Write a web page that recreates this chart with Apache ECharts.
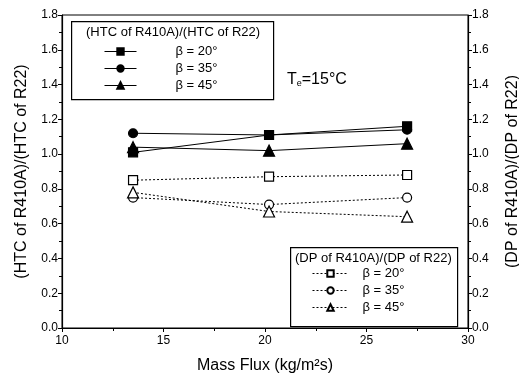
<!DOCTYPE html>
<html>
<head>
<meta charset="utf-8">
<script src="https://cdn.jsdelivr.net/npm/echarts@6/dist/echarts.min.js"></script>
<style>
  html, body { margin: 0; padding: 0; background: #fff; }
  #chart { width: 519px; height: 381px; }
</style>
</head>
<body>
<div id="chart"></div>
<script>
// Mass flux values (kg/m²s) where both ratios were measured
const massFlux = [13.5, 20.2, 27.0];

// Heat-transfer-coefficient ratio R410A / R22
const htc20 = [1.01, 1.11, 1.16];
const htc35 = [1.12, 1.11, 1.14];
const htc45 = [1.04, 1.02, 1.06];

// Pressure-drop ratio R410A / R22
const dp20 = [0.85, 0.87, 0.88];
const dp35 = [0.75, 0.71, 0.75];
const dp45 = [0.78, 0.67, 0.64];

const angleLabels = ['β = 20°', 'β = 35°', 'β = 45°'];

const FONT = 'Liberation Sans, Arial, sans-serif';
const BLACK = '#000';

function pairs(ys) { return massFlux.map((x, i) => [x, ys[i]]); }

function lineSeries(name, ys, symbol, filled, dashed, yIdx) {
  return {
    name: name,
    type: 'line',
    yAxisIndex: yIdx,
    data: pairs(ys),
    symbol: symbol,
    symbolSize: symbol === 'triangle' ? 11 : 9,
    showSymbol: true,
    lineStyle: { color: BLACK, width: 1, type: dashed ? [2, 2] : 'solid' },
    itemStyle: { color: filled ? BLACK : '#fff', borderColor: BLACK, borderWidth: 1.2 },
    emphasis: { disabled: true },
    animation: false,
    z: 3
  };
}

const htcNames = angleLabels.map(s => 'HTC ' + s);
const dpNames = angleLabels.map(s => 'DP ' + s);

const yAxisBase = {
  type: 'value', min: 0, max: 1.8, interval: 0.2,
  axisLine: { show: true, lineStyle: { color: BLACK, width: 1.2 } },
  axisTick: { show: true, length: 4, lineStyle: { color: BLACK } },
  minorTick: { show: true, splitNumber: 2, length: 3, lineStyle: { color: BLACK } },
  splitLine: { show: false },
  axisLabel: { color: BLACK, fontFamily: FONT, fontSize: 12, margin: 4, formatter: v => v.toFixed(1) },
  nameLocation: 'middle',
  nameTextStyle: { color: BLACK, fontFamily: FONT, fontSize: 16 }
};

const legendText = { color: BLACK, fontFamily: FONT, fontSize: 13 };

const option = {
  backgroundColor: '#fff',
  grid: {
    left: 62, right: 51, top: 15, bottom: 53,
    outerBoundsMode: 'none', containLabel: false,
    show: true, borderColor: BLACK, borderWidth: 1, backgroundColor: 'transparent'
  },
  xAxis: {
    type: 'value', min: 10, max: 30, interval: 5,
    axisLine: { show: true, lineStyle: { color: BLACK, width: 1.2 } },
    axisTick: { show: true, length: 4, lineStyle: { color: BLACK } },
    minorTick: { show: true, splitNumber: 2, length: 3, lineStyle: { color: BLACK } },
    splitLine: { show: false },
    axisLabel: { color: BLACK, fontFamily: FONT, fontSize: 12, margin: 7 },
    name: 'Mass Flux (kg/m²s)',
    nameLocation: 'middle',
    nameGap: 30,
    nameTextStyle: { color: BLACK, fontFamily: FONT, fontSize: 16 }
  },
  yAxis: [
    Object.assign({}, yAxisBase, { position: 'left', name: '(HTC of R410A)/(HTC of R22)', nameGap: 32 }),
    Object.assign({}, yAxisBase, { position: 'right', name: '(DP of R410A)/(DP of R22)', nameGap: 37 })
  ],
  legend: [
    {
      data: htcNames, orient: 'vertical', left: 104, top: 45,
      itemWidth: 32, itemHeight: 8, itemGap: 4,
      lineStyle: { width: 1 },
      formatter: n => n.replace('HTC ', ''),
      textStyle: Object.assign({ padding: [0, 0, 0, 34] }, legendText),
      selectedMode: false, padding: 0
    },
    {
      data: dpNames, orient: 'vertical', left: 312, top: 267,
      itemWidth: 36, itemHeight: 8, itemGap: 4,
      lineStyle: { width: 1 },
      formatter: n => n.replace('DP ', ''),
      textStyle: Object.assign({ padding: [0, 0, 0, 9] }, legendText),
      selectedMode: false, padding: 0
    }
  ],
  graphic: [
    { type: 'rect', left: 71, top: 21, shape: { width: 202, height: 78 }, style: { fill: '#fff', stroke: BLACK, lineWidth: 1.2 }, z: 1 },
    { type: 'text', left: 86, top: 26, style: { text: '(HTC of R410A)/(HTC of R22)', fill: BLACK, font: '13px ' + FONT }, z: 5 },
    { type: 'rect', left: 290, top: 247, shape: { width: 167, height: 79 }, style: { fill: '#fff', stroke: BLACK, lineWidth: 1.2 }, z: 1 },
    { type: 'text', left: 295, top: 252, style: { text: '(DP of R410A)/(DP of R22)', fill: BLACK, font: '13px ' + FONT }, z: 5 },
    {
      type: 'text', left: 287, top: 72, z: 5,
      style: {
        text: '{t|T}{s|e}{t|=15°C}',
        rich: {
          t: { fontFamily: FONT, fontSize: 16, fill: BLACK, verticalAlign: 'bottom' },
          s: { fontFamily: FONT, fontSize: 9, fill: BLACK, padding: [8, 0, 0, 0] }
        }
      }
    }
  ],
  series: [
    lineSeries(htcNames[0], htc20, 'rect', true, false, 0),
    lineSeries(htcNames[1], htc35, 'circle', true, false, 0),
    lineSeries(htcNames[2], htc45, 'triangle', true, false, 0),
    lineSeries(dpNames[0], dp20, 'rect', false, true, 1),
    lineSeries(dpNames[1], dp35, 'circle', false, true, 1),
    lineSeries(dpNames[2], dp45, 'triangle', false, true, 1)
  ]
};

const chart = echarts.init(document.getElementById('chart'), null, { renderer: 'canvas' });
chart.setOption(option);
</script>
</body>
</html>
